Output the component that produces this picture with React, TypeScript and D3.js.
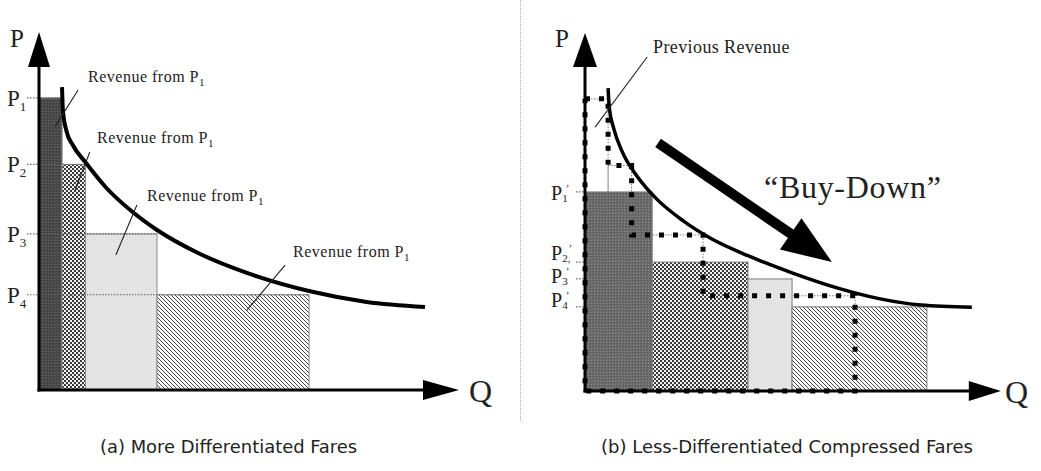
import React from "react";
import * as d3 from "d3";

// ---------- data (units: Q 0..100, P 0..100) ----------
const fareIndex = ["1", "2", "3", "4"];
const prevQ = [5.5, 11.1, 28.1, 64.3]; // cumulative quantity at each old fare
const prevP = [81.6, 63.0, 43.6, 26.6]; // old fares P1..P4
const newQ = [16.0, 38.8, 49.3, 81.4]; // cumulative quantity at each compressed fare
const newP = [55.6, 36.0, 31.3, 23.5]; // compressed fares P1'..P4'

const leftDemandQ = [5.48, 5.7, 6.5, 8.0, 11.2, 16.0, 22.0, 28.1, 38.0, 50.0, 64.8, 78.0, 91.9];
const leftDemandP = [84.6, 78.0, 72.5, 68.5, 63.4, 56.5, 50.0, 44.7, 38.2, 32.5, 27.5, 24.6, 23.2];
const rightDemandQ = [5.5, 5.8, 6.8, 8.8, 12.4, 17.1, 23.3, 30.0, 38.8, 49.3, 60.0, 70.0, 80.0, 92.1];
const rightDemandP = [84.6, 79.0, 73.5, 67.0, 60.0, 53.6, 47.6, 42.6, 37.8, 33.0, 28.8, 25.8, 24.0, 23.4];

const revenueLabel = "Revenue from P";
const previousLabel = "Previous Revenue";
const buyDownLabel = "\u201CBuy-Down\u201D";
const captions = ["(a) More Differentiated Fares", "(b) Less-Differentiated Compressed Fares"];
const axisLabels = ["P", "Q"];

const SERIF = "'Liberation Serif', 'Times New Roman', serif";
const SANS = "'DejaVu Sans Condensed', 'DejaVu Sans', sans-serif";

function makeScales(ox: number, oy: number) {
  const x = d3.scaleLinear().domain([0, 100]).range([ox, ox + 420]);
  const y = d3.scaleLinear().domain([0, 100]).range([oy, oy - 358]);
  return { x, y };
}

function Axes({ x, y, xMax, headY, headX }: any) {
  const x0 = x(0), y0 = y(0), yTop = y(100), xEnd = x(xMax);
  return (
    <g>
      <line x1={x0} y1={y0 + 1.5} x2={x0} y2={yTop + headY.len - 1} stroke="#000" strokeWidth={3} />
      <polygon points={`${x0 - headY.half},${yTop + headY.len} ${x0 + headY.half},${yTop + headY.len} ${x0},${yTop}`} fill="#000" />
      <line x1={x0 - 1.5} y1={y0} x2={xEnd - headX.len + 1} y2={y0} stroke="#000" strokeWidth={3} />
      <polygon points={`${xEnd - headX.len},${y0 - headX.half} ${xEnd - headX.len},${y0 + headX.half} ${xEnd},${y0}`} fill="#000" />
    </g>
  );
}

function bars(Q: number[], P: number[]) {
  return Q.map((q, i) => ({ q0: i === 0 ? 0 : Q[i - 1], q1: q, p: P[i] }));
}

export default function App() {
  const L = makeScales(39, 390);
  const R = makeScales(585, 391);

  const lineL = d3.line<number>().x((_, i) => L.x(leftDemandQ[i])).y((d) => L.y(d)).curve(d3.curveMonotoneX);
  const lineR = d3.line<number>().x((_, i) => R.x(rightDemandQ[i])).y((d) => R.y(d)).curve(d3.curveMonotoneX);

  const fillsL = ["url(#darkL)", "url(#check)", "url(#light)", "url(#hatch)"];
  const fillsR = ["url(#darkR)", "url(#check)", "url(#light)", "url(#hatch)"];

  const oldBars = bars(prevQ, prevP);
  const nuBars = bars(newQ, newP);

  // staircase of previous revenue
  const stair: [number, number][] = [[0, prevP[0]]];
  prevQ.forEach((q, i) => {
    stair.push([q, prevP[i]]);
    stair.push([q, i + 1 < prevP.length ? prevP[i + 1] : 0]);
  });
  stair.push([0, 0]);
  stair.push([0, prevP[0]]);
  const stairPath = d3.line<[number, number]>().x((d) => R.x(d[0])).y((d) => R.y(d[1]))(stair) || "";

  // big buy-down arrow
  const aS = [R.x(17.4), R.y(69.3)];
  const aT = [R.x(58.8), R.y(36.0)];
  const dx = aT[0] - aS[0], dy = aT[1] - aS[1];
  const len = Math.hypot(dx, dy);
  const ux = dx / len, uy = dy / len;
  const headLen = 50, headHalf = 19;
  const bx = aT[0] - ux * headLen, by = aT[1] - uy * headLen;

  const leftLeaders = [
    [9.3, 83.8, 3.8, 73.5],
    [12.1, 66.5, 8.6, 55.9],
    [23.3, 51.7, 18.3, 37.7],
    [58.6, 34.9, 49.5, 22.3],
  ];
  const leftLabelPos = [
    [88, 82],
    [97, 143],
    [147, 201],
    [293, 257],
  ];
  const rightLabelDy = [8, -2, 4, 0];

  return (
    <svg width={1041} height={471} style={{ position: "absolute", left: 0, top: 0, background: "#fff" }}>
      <defs>
        <pattern id="darkL" width={3} height={3} patternUnits="userSpaceOnUse">
          <rect width={3} height={3} fill="#4a4a4a" />
          <rect x={0} y={0} width={1} height={1} fill="#666" />
          <rect x={2} y={1} width={1} height={1} fill="#383838" />
        </pattern>
        <pattern id="darkR" width={3} height={3} patternUnits="userSpaceOnUse">
          <rect width={3} height={3} fill="#6b6b6b" />
          <rect x={0} y={0} width={1} height={1} fill="#888" />
          <rect x={2} y={1} width={1} height={1} fill="#555" />
        </pattern>
        <pattern id="check" width={4} height={4} patternUnits="userSpaceOnUse">
          <rect width={4} height={4} fill="#f2f2f2" />
          <rect x={0} y={0} width={2} height={2} fill="#3a3a3a" />
          <rect x={2} y={2} width={2} height={2} fill="#3a3a3a" />
        </pattern>
        <pattern id="light" width={4} height={4} patternUnits="userSpaceOnUse">
          <rect width={4} height={4} fill="#e6e6e6" />
          <rect x={1} y={1} width={1} height={1} fill="#cfcfcf" />
          <rect x={3} y={3} width={1} height={1} fill="#d6d6d6" />
        </pattern>
        <pattern id="hatch" width={4} height={4} patternUnits="userSpaceOnUse">
          <rect width={4} height={4} fill="#fafafa" />
          <path d="M-1,-1 L5,5 M-1,3 L1,5 M3,-1 L5,1" stroke="#4a4a4a" strokeWidth={1} />
        </pattern>
      </defs>

      {/* divider */}
      <line x1={520.5} y1={0} x2={520.5} y2={422} stroke="#aaa" strokeWidth={1} strokeDasharray="1 1" />

      {/* ---------- LEFT PANEL ---------- */}
      <g>
        {oldBars.map((b, i) => (
          <rect key={i} x={L.x(b.q0)} y={L.y(b.p)} width={L.x(b.q1) - L.x(b.q0)} height={L.y(0) - L.y(b.p)}
            fill={fillsL[i]} stroke="#8a8a8a" strokeWidth={1} />
        ))}
        {oldBars.map((b, i) => (
          <line key={"d" + i} x1={27} x2={L.x(b.q1)} y1={L.y(b.p)} y2={L.y(b.p)} stroke="#666" strokeWidth={1.2} strokeDasharray="1.5 1.5" />
        ))}
        <Axes x={L.x} y={L.y} xMax={100} headY={{ len: 35, half: 11 }} headX={{ len: 36, half: 10 }} />
        <path d={lineL(leftDemandP) || ""} fill="none" stroke="#000" strokeWidth={4} />
        {leftLeaders.map((l, i) => (
          <line key={"l" + i} x1={L.x(l[0])} y1={L.y(l[1])} x2={L.x(l[2])} y2={L.y(l[3])} stroke="#222" strokeWidth={1.1} />
        ))}
        {leftLabelPos.map((p, i) => (
          <text key={"t" + i} x={p[0]} y={p[1]} fontFamily={SERIF} fontSize={16} letterSpacing={0.5} fill="#222">
            {revenueLabel}
            <tspan dy={4} fontSize={11}>{fareIndex[0]}</tspan>
          </text>
        ))}
        {prevP.map((p, i) => (
          <text key={"p" + i} x={7} y={L.y(p) + 8} fontFamily={SERIF} fontSize={23} fill="#222">
            P<tspan dy={5} fontSize={13}>{fareIndex[i]}</tspan>
          </text>
        ))}
        <text x={10} y={47} fontFamily={SERIF} fontSize={25} fill="#222">{axisLabels[0]}</text>
        <text x={469} y={402} fontFamily={SERIF} fontSize={32} fill="#222">{axisLabels[1]}</text>
        <text x={100} y={453} fontFamily={SANS} fontSize={17} fill="#222" textLength={257} lengthAdjust="spacingAndGlyphs">{captions[0]}</text>
      </g>

      {/* ---------- RIGHT PANEL ---------- */}
      <g>
        {oldBars.map((b, i) => (
          <rect key={"o" + i} x={R.x(b.q0)} y={R.y(b.p)} width={R.x(b.q1) - R.x(b.q0)} height={R.y(0) - R.y(b.p)}
            fill="none" stroke="#777" strokeWidth={1} strokeDasharray="1.5 1.5" />
        ))}
        {nuBars.map((b, i) => (
          <rect key={i} x={R.x(b.q0)} y={R.y(b.p)} width={R.x(b.q1) - R.x(b.q0)} height={R.y(0) - R.y(b.p)}
            fill={fillsR[i]} stroke="#7a7a7a" strokeWidth={1} />
        ))}
        {newP.map((p, i) => (
          <line key={"d" + i} x1={576} x2={R.x(0)} y1={R.y(p)} y2={R.y(p)} stroke="#666" strokeWidth={1.2} strokeDasharray="1.5 1.5" />
        ))}
        <Axes x={R.x} y={R.y} xMax={99} headY={{ len: 34, half: 12 }} headX={{ len: 32, half: 10 }} />
        <path d={stairPath} fill="none" stroke="#000" strokeWidth={5} strokeDasharray="5 9" />
        <path d={lineR(rightDemandP) || ""} fill="none" stroke="#000" strokeWidth={3.5} />
        <line x1={R.x(14.8)} y1={R.y(93.3)} x2={R.x(2.4)} y2={R.y(73.7)} stroke="#222" strokeWidth={1.1} />
        <text x={653} y={53} fontFamily={SERIF} fontSize={18} letterSpacing={0.4} fill="#222">{previousLabel}</text>
        {/* buy-down arrow */}
        <line x1={aS[0]} y1={aS[1]} x2={bx + ux * 2} y2={by + uy * 2} stroke="#000" strokeWidth={10} />
        <polygon
          points={`${bx - uy * headHalf},${by + ux * headHalf} ${bx + uy * headHalf},${by - ux * headHalf} ${aT[0]},${aT[1]}`}
          fill="#000" />
        <text x={764} y={198} fontFamily={SERIF} fontSize={32} letterSpacing={0.7} fill="#222">{buyDownLabel}</text>
        {newP.map((p, i) => (
          <text key={"p" + i} x={551} y={R.y(p) + rightLabelDy[i]} fontFamily={SERIF} fontSize={20} fill="#222">
            P<tspan dy={2} fontSize={11}>{fareIndex[i] + (i === 1 ? "," : "")}</tspan>
            <tspan dy={-10} dx={-2} fontSize={11}>{"\u2019"}</tspan>
          </text>
        ))}
        <text x={555} y={47} fontFamily={SERIF} fontSize={25} fill="#222">{axisLabels[0]}</text>
        <text x={1005} y={403} fontFamily={SERIF} fontSize={32} fill="#222">{axisLabels[1]}</text>
        <text x={601} y={453} fontFamily={SANS} fontSize={17} fill="#222" textLength={372} lengthAdjust="spacingAndGlyphs">{captions[1]}</text>
      </g>
    </svg>
  );
}
